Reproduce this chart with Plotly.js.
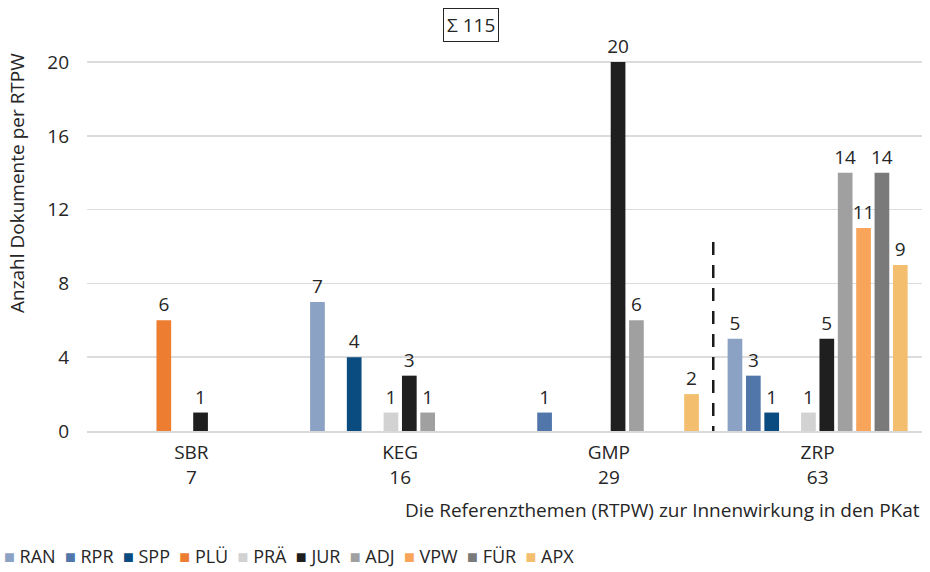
<!DOCTYPE html>
<html>
<head>
<meta charset="utf-8">
<script src="https://cdn.plot.ly/plotly-3.0.1.min.js"></script>
<style>
  html, body { margin: 0; padding: 0; background: #fff; }
  #chart { width: 930px; height: 572px; }
</style>
</head>
<body>
<div id="chart"></div>
<script>
// categories (Referenzthemen) and their totals
const categories = ["SBR", "KEG", "GMP", "ZRP"];
const totals = [7, 16, 29, 63];
const grandTotal = 115;

// series names and colours
const seriesNames = ["RAN", "RPR", "SPP", "PLÜ", "PRÄ", "JUR", "ADJ", "VPW", "FÜR", "APX"];
const seriesColors = ["#8ca2c4", "#5176aa", "#0b4c80", "#ed7d31", "#d2d2d2",
                      "#1f1f1f", "#a0a0a0", "#f8a45a", "#7a7a7a", "#f3be6e"];

// values per series, one per category (null = no bar)
const RAN = [null, 7, null, 5];
const RPR = [null, null, 1, 3];
const SPP = [null, 4, null, 1];
const PLU = [6, null, null, null];
const PRA = [null, 1, null, 1];
const JUR = [1, 3, 20, 5];
const ADJ = [null, 1, 6, 14];
const VPW = [null, null, null, 11];
const FUR = [null, null, null, 14];
const APX = [null, null, 2, 9];
const seriesValues = [RAN, RPR, SPP, PLU, PRA, JUR, ADJ, VPW, FUR, APX];

const font = "'Open Sans', sans-serif";
const textColor = "#262626";
const fs = 19;

const xLabels = categories.map((c, i) => c + "<br>" + totals[i]);

const traces = seriesNames.map((name, i) => ({
  type: "bar",
  name: name,
  x: xLabels,
  y: seriesValues[i],
  marker: { color: seriesColors[i] },
  text: seriesValues[i].map(v => (v == null ? "" : String(v))),
  textposition: "outside",
  constraintext: "none",
  cliponaxis: false,
  textfont: { family: font, size: fs, color: textColor },
  showlegend: false,
  hoverinfo: "name+y"
}));

// legend drawn as one line of text, built from the series arrays
const legendText = seriesNames
  .map((n, i) => `<span style="color:${seriesColors[i]};font-size:18px">■</span> ${n}`)
  .join("  ");

const layout = {
  width: 930,
  height: 572,
  margin: { l: 87, r: 8, t: 44, b: 141 },
  paper_bgcolor: "#fff",
  plot_bgcolor: "#fff",
  font: { family: font, size: fs, color: textColor },
  barmode: "group",
  bargap: 0.12,
  bargroupgap: 0.2,
  xaxis: {
    type: "category",
    showgrid: false,
    showline: true,
    linecolor: "#d9d9d9",
    linewidth: 2,
    ticks: "",
    tickfont: { family: font, size: fs, color: textColor },
    ticklabelstandoff: 3
  },
  yaxis: {
    range: [0, 20.98],
    dtick: 4,
    tick0: 0,
    showgrid: true,
    gridcolor: "#dcdcdc",
    gridwidth: 1.5,
    zeroline: false,
    ticks: "",
    ticklabelstandoff: 17,
    tickfont: { family: font, size: fs, color: textColor }
  },
  shapes: [{
    type: "line",
    xref: "x",
    yref: "y",
    x0: 2.5, x1: 2.5,
    y0: 10.25, y1: -2.75,
    line: { color: "#1a1a1a", width: 2.5, dash: "13px,10px" }
  }],
  annotations: [
    {
      text: "Σ " + grandTotal,
      xref: "paper", yref: "paper",
      x: 0.4595, y: 1.005,
      xanchor: "center", yanchor: "bottom",
      showarrow: false,
      bordercolor: "#262626",
      borderwidth: 1,
      borderpad: 3,
      font: { family: font, size: fs, color: textColor }
    },
    {
      text: "Anzahl Dokumente per RTPW",
      xref: "paper", yref: "paper",
      x: -0.083, y: 0.64,
      xanchor: "center", yanchor: "middle",
      textangle: -90,
      showarrow: false,
      font: { family: font, size: fs, color: textColor }
    },
    {
      text: "Die Referenzthemen (RTPW) zur Innenwirkung in den PKat",
      xref: "paper", yref: "paper",
      x: 1, y: -0.205,
      xanchor: "right", yanchor: "middle",
      showarrow: false,
      font: { family: font, size: fs, color: textColor }
    },
    {
      text: legendText,
      xref: "paper", yref: "paper",
      x: -0.102, y: -0.322,
      xanchor: "left", yanchor: "middle",
      align: "left",
      showarrow: false,
      font: { family: font, size: 18, color: textColor }
    }
  ]
};

Plotly.newPlot("chart", traces, layout, { displayModeBar: false, staticPlot: true });
</script>
</body>
</html>
